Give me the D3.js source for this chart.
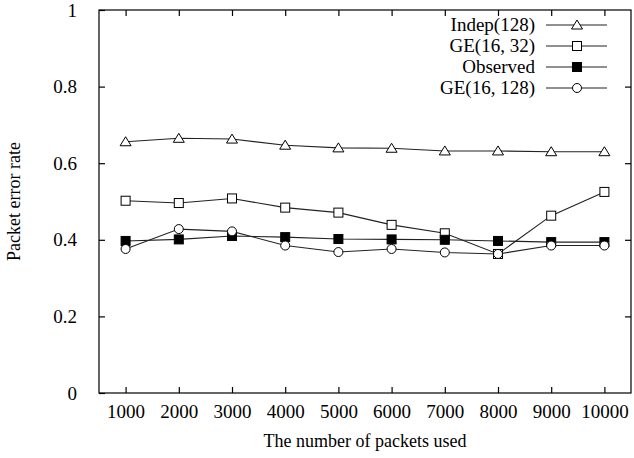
<!DOCTYPE html>
<html>
<head>
<meta charset="utf-8">
<script src="https://cdn.jsdelivr.net/npm/d3@7"></script>
<style>
  body { margin: 0; background: #fff; }
  svg text { font-family: "Liberation Serif", "Times New Roman", serif; fill: #000; }
</style>
</head>
<body>
<div id="chart"></div>
<script>
// packets used
var packets = [1000, 2000, 3000, 4000, 5000, 6000, 7000, 8000, 9000, 10000];
var yTicks = [0, 0.2, 0.4, 0.6, 0.8, 1];

var indep128 = [0.656, 0.665, 0.663, 0.647, 0.640, 0.639, 0.632, 0.632, 0.630, 0.630];
var ge16_32  = [0.502, 0.496, 0.508, 0.484, 0.471, 0.439, 0.417, 0.363, 0.463, 0.525];
var observed = [0.397, 0.401, 0.410, 0.407, 0.402, 0.401, 0.400, 0.397, 0.394, 0.394];
var ge16_128 = [0.376, 0.428, 0.422, 0.385, 0.368, 0.376, 0.367, 0.363, 0.385, 0.385];

var series = [
  {name: "Indep(128)", values: indep128, mark: "triangle"},
  {name: "GE(16, 32)", values: ge16_32, mark: "square"},
  {name: "Observed", values: observed, mark: "filled"},
  {name: "GE(16, 128)", values: ge16_128, mark: "circle"}
];

var W = 634, H = 458;
// plot box (window.top is reserved, so don't call it "top")
var pLeft = 99, pRight = 631, pTop = 10, pBottom = 393;

var svg = d3.select("#chart").append("svg")
    .attr("width", W).attr("height", H);

var x = d3.scaleLinear().domain([500, 10500]).range([pLeft, pRight]);
var y = d3.scaleLinear().domain([0, 1]).range([pBottom, pTop]);

// frame
svg.append("rect")
    .attr("x", pLeft).attr("y", pTop)
    .attr("width", pRight - pLeft).attr("height", pBottom - pTop)
    .attr("fill", "none").attr("stroke", "#000").attr("stroke-width", 1.2);

// axes, ticks pointing inward, mirrored on top/right
var tickLen = 6;
var fontSize = "19px";
svg.append("g").attr("transform", "translate(0," + pBottom + ")")
    .call(d3.axisBottom(x).tickValues(packets).tickSize(-tickLen).tickPadding(12).tickFormat(d3.format("d")))
    .call(g => g.select(".domain").remove())
    .call(g => g.selectAll("text").style("font-size", fontSize));
svg.append("g").attr("transform", "translate(0," + pTop + ")")
    .call(d3.axisTop(x).tickValues(packets).tickSize(-tickLen).tickFormat(""))
    .call(g => g.select(".domain").remove());
svg.append("g").attr("transform", "translate(" + pLeft + ",0)")
    .call(d3.axisLeft(y).tickValues(yTicks).tickSize(-tickLen).tickPadding(22).tickFormat(d3.format("")))
    .call(g => g.select(".domain").remove())
    .call(g => g.selectAll("text").style("font-size", fontSize));
svg.append("g").attr("transform", "translate(" + pRight + ",0)")
    .call(d3.axisRight(y).tickValues(yTicks.slice(1, -1)).tickSize(-tickLen).tickFormat(""))
    .call(g => g.select(".domain").remove());
svg.selectAll(".tick line").attr("stroke", "#000").attr("stroke-width", 1.2);

// axis titles
svg.append("text")
    .attr("x", (pLeft + pRight) / 2).attr("y", 447)
    .attr("text-anchor", "middle").style("font-size", "18px")
    .text("The number of packets used");
svg.append("text")
    .attr("transform", "translate(20," + (pTop + pBottom) / 2 + ") rotate(-90)")
    .attr("text-anchor", "middle").style("font-size", "18px")
    .text("Packet error rate");

function drawMark(g, kind, cx, cy) {
  if (kind === "triangle") {
    g.append("path")
      .attr("d", "M" + cx + "," + (cy - 5) + "L" + (cx + 5.5) + "," + (cy + 4) + "L" + (cx - 5.5) + "," + (cy + 4) + "Z")
      .attr("fill", "#fff").attr("stroke", "#000").attr("stroke-width", 1);
  } else if (kind === "square" || kind === "filled") {
    g.append("rect")
      .attr("x", cx - 4.5).attr("y", cy - 4.5).attr("width", 9).attr("height", 9)
      .attr("fill", kind === "filled" ? "#000" : "#fff")
      .attr("stroke", "#000").attr("stroke-width", 1);
  } else {
    g.append("circle").attr("cx", cx).attr("cy", cy).attr("r", 4.5)
      .attr("fill", "#fff").attr("stroke", "#000").attr("stroke-width", 1);
  }
}

var line = d3.line().x(d => x(d[0])).y(d => y(d[1]));

series.forEach(function (s) {
  var g = svg.append("g");
  var pts = packets.map((p, i) => [p, s.values[i]]);
  g.append("path").datum(pts).attr("d", line)
    .attr("fill", "none").attr("stroke", "#222").attr("stroke-width", 1.1);
  pts.forEach(d => drawMark(g, s.mark, x(d[0]), y(d[1])));
});

// legend
var legY = [25, 46, 67, 88];
series.forEach(function (s, i) {
  var g = svg.append("g");
  g.append("text").attr("x", 535).attr("y", legY[i] + 6)
    .attr("text-anchor", "end").style("font-size", "19px").text(s.name);
  g.append("line").attr("x1", 546).attr("x2", 607)
    .attr("y1", legY[i]).attr("y2", legY[i])
    .attr("stroke", "#222").attr("stroke-width", 1.1);
  drawMark(g, s.mark, 577, legY[i]);
});
</script>
</body>
</html>
